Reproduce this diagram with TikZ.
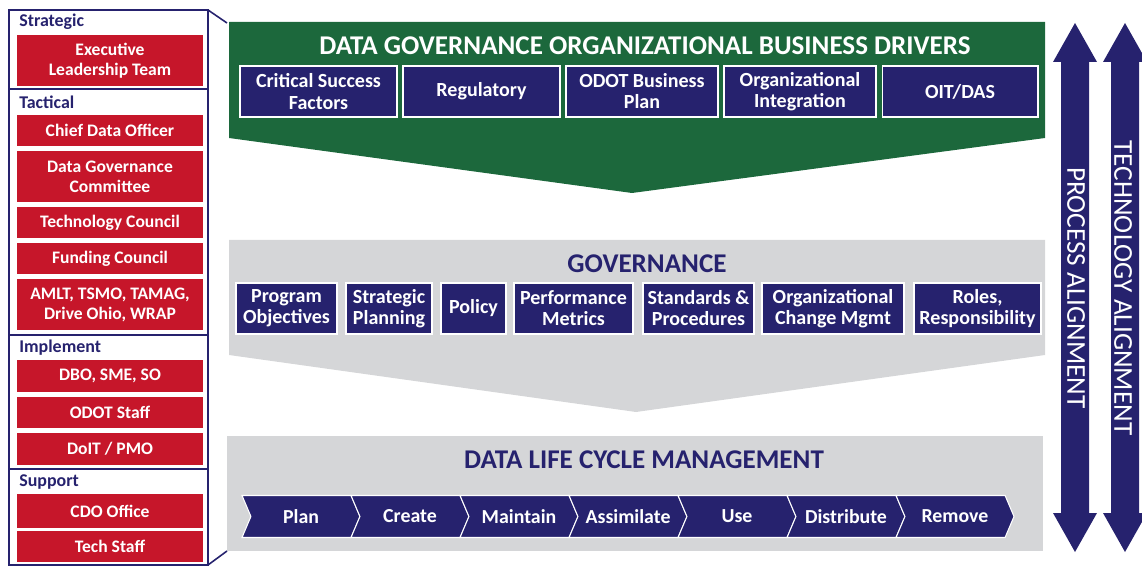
\documentclass[tikz,border=0pt]{standalone}
\usepackage{fontspec}
\setmainfont{Carlito}
\usepackage{xcolor}
\usepackage{tikz}
\usetikzlibrary{shapes.symbols}

\definecolor{navy}{RGB}{38,34,110}
\definecolor{drvgreen}{RGB}{28,104,60}
\definecolor{govgray}{RGB}{213,214,216}
\definecolor{rolered}{RGB}{198,22,42}

\tikzset{
	rolebox/.style={fill=rolered, text=white, font=\bfseries\fontsize{10}{11.4}\selectfont, align=center, minimum width=3.72cm, inner sep=0pt},
	tierlabel/.style={anchor=west, text=navy, font=\bfseries\fontsize{10.2}{11}\selectfont, inner sep=0pt},
	itembox/.style={fill=navy, draw=white, line width=0.6pt, text=white, font=\bfseries\fontsize{11.4}{12}\selectfont, align=center, minimum height=1.02cm, inner sep=0pt},
	stagebox/.style={signal, signal from=west, signal to=east, signal pointer angle=134, fill=navy, draw=white, line width=0.6pt, text=white, font=\bfseries\fontsize{11.3}{12}\selectfont, minimum width=2.36cm, minimum height=0.84cm, inner sep=0pt},
	bandtitle/.style={font=\bfseries\fontsize{15.4}{17}\selectfont, inner sep=0pt},
	aligntext/.style={rotate=-90, text=white, font=\fontsize{15.5}{17}\selectfont, inner sep=0pt}
}

\begin{document}
\begin{tikzpicture}[x=0.02cm, y=-0.02cm]
		\useasboundingbox (0,0) rectangle (1142,567);
		%
		% bands
		\fill[drvgreen] (229,22) -- (1045,22) -- (1045,138) -- (632,193) -- (229,138) -- cycle;
		\fill[govgray] (229,240) -- (1045,240) -- (1045,355) -- (636,412) -- (229,355) -- cycle;
		\fill[govgray] (227,436) rectangle (1043,551);
		%
		% left panel
		\draw[navy, line width=0.9pt] (9,10) rectangle (208,565);
		\draw[navy, line width=0.9pt] (208,10) -- (227,23);
		\draw[navy, line width=0.9pt] (208,565) -- (227,551);
		\draw[navy, line width=0.9pt] (9,89) -- (208,89);
		\draw[navy, line width=0.9pt] (9,335) -- (208,335);
		\draw[navy, line width=0.9pt] (9,469) -- (208,469);
		%
		\node[tierlabel] (strat) at (19,22) {Strategic};
		\node[tierlabel] (tact) at (19,102) {Tactical};
		\node[tierlabel] (impl) at (19,348) {Implement};
		\node[tierlabel] (supp) at (19,482) {Support};
		%
		\node[rolebox, minimum height=1.02cm] (exec) at (110,60.5) {Executive\\Leadership Team};
		\node[rolebox, minimum height=0.62cm] (cdo) at (110,130.5) {Chief Data Officer};
		\node[rolebox, minimum height=1.02cm] (dgc) at (110,176.5) {Data Governance\\Committee};
		\node[rolebox, minimum height=0.62cm] (techc) at (110,222.5) {Technology Council};
		\node[rolebox, minimum height=0.62cm] (fund) at (110,258.5) {Funding Council};
		\node[rolebox, minimum height=1.02cm] (amlt) at (110,304.5) {AMLT, TSMO, TAMAG,\\Drive Ohio, WRAP};
		\node[rolebox, minimum height=0.64cm] (dbo) at (110,376) {DBO, SME, SO};
		\node[rolebox, minimum height=0.62cm] (odot) at (110,412.5) {ODOT Staff};
		\node[rolebox, minimum height=0.64cm] (doit) at (110,449) {DoIT / PMO};
		\node[rolebox, minimum height=0.68cm] (cdoo) at (110,511) {CDO Office};
		\node[rolebox, minimum height=0.62cm] (techs) at (110,546.5) {Tech Staff};
		%
		% business drivers
		\node[bandtitle, text=white] (drv) at (645,45.5) {DATA GOVERNANCE ORGANIZATIONAL BUSINESS DRIVERS};
		\node[itembox, minimum width=3.14cm] (csf) at (318.5,91.5) {Critical Success\\Factors};
		\node[itembox, minimum width=3.14cm] (reg) at (481.5,91.5) {Regulatory};
		\node[itembox, minimum width=3.04cm] (obp) at (642,91.5) {ODOT Business\\Plan};
		\node[itembox, minimum width=3.04cm] (orgi) at (800,91.5) {Organizational\\Integration};
		\node[itembox, minimum width=3.12cm] (oit) at (960,91.5) {OIT/DAS};
		%
		% governance
		\node[bandtitle, text=navy] (gov) at (647,264) {GOVERNANCE};
		\node[itembox, minimum width=2.02cm] (progobj) at (286.5,308.5) {Program\\Objectives};
		\node[itembox, minimum width=1.72cm] (stratpl) at (389,308.5) {Strategic\\Planning};
		\node[itembox, minimum width=1.30cm] (policy) at (473.5,308.5) {Policy};
		\node[itembox, minimum width=2.38cm] (perfm) at (573.5,308.5) {Performance\\Metrics};
		\node[itembox, minimum width=2.22cm] (stdproc) at (698.5,308.5) {Standards \&\\Procedures};
		\node[itembox, minimum width=2.84cm] (ocm) at (833,308.5) {Organizational\\Change Mgmt};
		\node[itembox, minimum width=2.54cm] (roles) at (977.5,308.5) {Roles,\\Responsibility};
		%
		% life cycle
		\node[bandtitle, text=navy] (dlc) at (644,460) {DATA LIFE CYCLE MANAGEMENT};
		\foreach \lbl [count=\i from 0] in {Plan,Create,Maintain,Assimilate,Use,Distribute,Remove}
			\node[stagebox] (stage\i) at ({301+109*\i},516.5) {\lbl};
		%
		% alignment arrows
		\foreach \cx in {1075,1125}
			\fill[navy] (\cx,23) -- (\cx+22,62) -- (\cx+14,62) -- (\cx+14,513) -- (\cx+22,513)
				-- (\cx,552) -- (\cx-22,513) -- (\cx-14,513) -- (\cx-14,62) -- (\cx-22,62) -- cycle;
		\node[aligntext] (proc) at (1076,288) {PROCESS ALIGNMENT};
		\node[aligntext] (techal) at (1123,288) {TECHNOLOGY ALIGNMENT};
	\end{tikzpicture}
\end{document}
